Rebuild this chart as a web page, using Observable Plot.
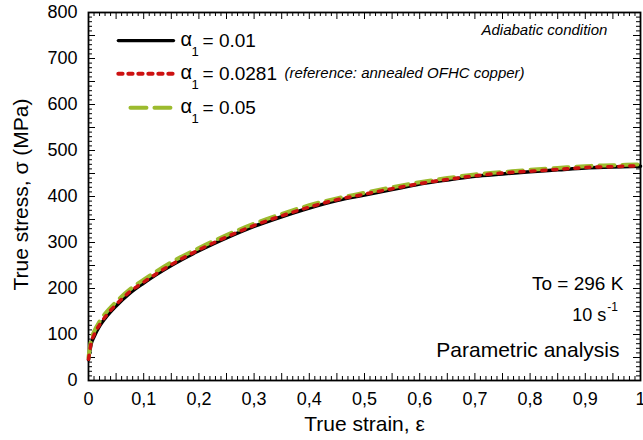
<!DOCTYPE html>
<html>
<head>
<meta charset="utf-8">
<script src="https://cdn.jsdelivr.net/npm/d3@7"></script>
<script src="https://cdn.jsdelivr.net/npm/@observablehq/plot@0.6"></script>
<style>
  html, body { margin: 0; padding: 0; background: #fff; }
</style>
</head>
<body>
<div id="chart"></div>
<script>
// ---- Data ----
const strain = [0, 0.005, 0.01, 0.02, 0.03, 0.05, 0.075, 0.1, 0.15, 0.2, 0.25, 0.3, 0.35, 0.4, 0.45, 0.5, 0.55, 0.6, 0.65, 0.7, 0.75, 0.8, 0.85, 0.9, 0.95, 1.0];
const stressA001  = [45, 80, 95, 118, 135, 162, 190, 212, 250, 282, 310, 335, 356, 375, 391, 403, 415, 427, 436, 444, 449, 454, 458, 462, 464, 466];
const stressA0281 = [46, 83, 99, 121, 138, 165, 193, 214, 252, 284, 312, 337, 358, 377, 393, 405, 417, 428, 437, 445, 451, 455, 459, 463, 465, 467];
const stressA005  = [50, 90, 106, 128, 145, 171, 198, 219, 257, 288, 316, 341, 362, 381, 396, 408, 420, 431, 440, 448, 453, 458, 462, 466, 468, 470];

const xTickValues = [0, 0.1, 0.2, 0.3, 0.4, 0.5, 0.6, 0.7, 0.8, 0.9, 1];
const yTickValues = [0, 100, 200, 300, 400, 500, 600, 700, 800];
const seriesLabels = ["= 0.01", "= 0.0281", "= 0.05"];

// ---- Build tables ----
const mk = (ys) => strain.map((x, i) => ({x, y: ys[i]}));
const black = mk(stressA001), red = mk(stressA0281), green = mk(stressA005);

const minorX = d3.range(0, 101).map(i => i / 100).filter((d, i) => i % 5 !== 0);
const majorX = d3.range(0, 21).map(i => i / 20);
const minorY = d3.range(0, 81).map(i => i * 10).filter((d, i) => i % 5 !== 0);
const majorY = d3.range(0, 17).map(i => i * 50);

// legend geometry (in data space)
const legRows = [739, 667, 593];
const legBlack = [{x: 0.054, y: legRows[0]}, {x: 0.154, y: legRows[0]}];
const legRed   = [{x: 0.054, y: legRows[1]}, {x: 0.154, y: legRows[1]}];
const legGreen = [{x: 0.076, y: legRows[2]}, {x: 0.154, y: legRows[2]}];
const legText = legRows.map((y, i) => ({x: 0.1667, y, label: seriesLabels[i]}));

const font = "'Liberation Sans', Arial, Helvetica, sans-serif";
const fmt = d => d === 0 ? "0" : d === 1 ? "1" : d.toFixed(1).replace(".", ",");

const green_c = "#9cbb2e", red_c = "#cc1111";

const chart = Plot.plot({
  width: 643,
  height: 440,
  marginLeft: 88,
  marginRight: 3,
  marginTop: 12,
  marginBottom: 60,
  style: {fontFamily: font, fontSize: "18px", color: "black", background: "white", overflow: "visible"},
  x: {domain: [0, 1]},
  y: {domain: [0, 800]},
  marks: [
    // axes (labels only)
    Plot.axisX({ticks: xTickValues, tickSize: 0, tickPadding: 12, tickFormat: fmt, label: null, fontSize: 18}),
    Plot.axisY({ticks: yTickValues, tickSize: 0, tickPadding: 11, label: null, fontSize: 18}),
    // inward ticks, bottom / top
    Plot.ruleX(minorX, {x: d => d, y1: 0, y2: 0, insetTop: -4, stroke: "black", strokeWidth: 1}),
    Plot.ruleX(majorX, {x: d => d, y1: 0, y2: 0, insetTop: -7, stroke: "black", strokeWidth: 1}),
    Plot.ruleX(minorX, {x: d => d, y1: 800, y2: 800, insetBottom: -4, stroke: "black", strokeWidth: 1}),
    Plot.ruleX(majorX, {x: d => d, y1: 800, y2: 800, insetBottom: -7, stroke: "black", strokeWidth: 1}),
    // inward ticks, left / right
    Plot.ruleY(minorY, {y: d => d, x1: 0, x2: 0, insetRight: -4, stroke: "black", strokeWidth: 1}),
    Plot.ruleY(majorY, {y: d => d, x1: 0, x2: 0, insetRight: -7, stroke: "black", strokeWidth: 1}),
    Plot.ruleY(minorY, {y: d => d, x1: 1, x2: 1, insetLeft: -4, stroke: "black", strokeWidth: 1}),
    Plot.ruleY(majorY, {y: d => d, x1: 1, x2: 1, insetLeft: -7, stroke: "black", strokeWidth: 1}),
    Plot.frame({stroke: "black", strokeWidth: 1.8}),

    // curves
    Plot.line(black, {x: "x", y: "y", stroke: "black", strokeWidth: 3.5, curve: "monotone-x"}),
    Plot.line(green, {x: "x", y: "y", stroke: green_c, strokeWidth: 4, strokeDasharray: "15,8", curve: "monotone-x"}),
    Plot.line(red, {x: "x", y: "y", stroke: red_c, strokeWidth: 3.5, strokeDasharray: "4,7", curve: "monotone-x"}),

    // legend
    Plot.line(legBlack, {x: "x", y: "y", stroke: "black", strokeWidth: 3.3}),
    Plot.line(legRed, {x: "x", y: "y", stroke: red_c, strokeWidth: 4, strokeDasharray: "4.3,5.7"}),
    Plot.line(legGreen, {x: "x", y: "y", stroke: green_c, strokeWidth: 4, strokeDasharray: "16,8"}),
    Plot.text(legText, {x: "x", y: "y", text: () => "α", textAnchor: "start", fontSize: 20, dy: -1}),
    Plot.text(legText, {x: "x", y: "y", text: () => "1", textAnchor: "start", fontSize: 13, dx: 11, dy: 11}),
    Plot.text(legText, {x: "x", y: "y", text: "label", textAnchor: "start", fontSize: 19, dx: 22}),
    Plot.text(["(reference: annealed OFHC copper)"], {x: 0.355, y: legRows[1], textAnchor: "start", fontSize: 15, fontStyle: "italic"}),

    // annotations
    Plot.text(["Adiabatic condition"], {x: 0.940, y: 761, textAnchor: "end", fontSize: 15, fontStyle: "italic"}),
    Plot.text(["To = 296 K"], {x: 0.969, y: 211, textAnchor: "end", fontSize: 19}),
    Plot.text(["10 s"], {x: 0.938, y: 141, textAnchor: "end", fontSize: 18}),
    Plot.text(["-1"], {x: 0.938, y: 141, textAnchor: "start", fontSize: 12, dx: 1, dy: -8}),
    Plot.text(["Parametric analysis"], {x: 0.962, y: 65, textAnchor: "end", fontSize: 21}),

    // axis titles
    Plot.text(["True strain, ε"], {frameAnchor: "bottom", dy: 44, fontSize: 21, textAnchor: "middle", lineAnchor: "middle"}),
    Plot.text(["True stress, σ (MPa)"], {frameAnchor: "left", dx: -67, dy: -2, rotate: -90, fontSize: 21, textAnchor: "middle", lineAnchor: "middle"})
  ]
});
document.getElementById("chart").appendChild(chart);
</script>
</body>
</html>
